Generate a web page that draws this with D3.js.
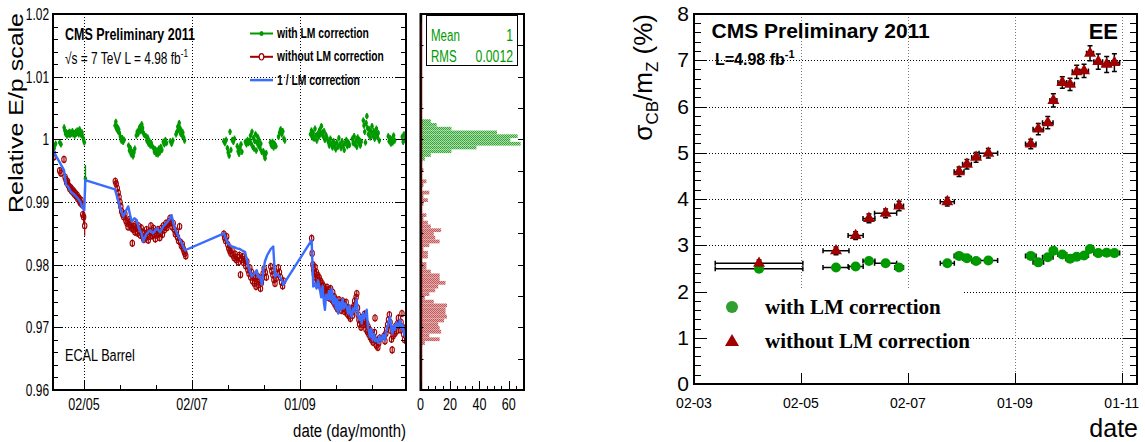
<!DOCTYPE html>
<html>
<head>
<meta charset="utf-8">
<script src="https://cdn.jsdelivr.net/npm/d3@7"></script>
<style>
body { margin: 0; background: #fff; }
svg { display: block; font-family: "Liberation Sans", Arial, sans-serif; }
</style>
</head>
<body>
<svg id="chart" width="1145" height="442"></svg>
<script>
// ---------- left panel (ECAL barrel), x = day of year 2011 ----------
// [day, relative E/p, optional error]
var withLM = [
 [104.6,0.9990],[105.2,0.9986],[106.0,0.9993],[108.3,0.9995],[109.0,0.9992],[110.8,1.0019],[111.2,1.0014],
 [111.6,1.0009],[112.0,1.0011],[112.4,1.0006],[112.8,1.0010],[113.3,1.0008],[113.7,1.0012],[114.1,1.0007],
 [114.6,1.0011],[115.0,1.0009],[115.5,1.0013],[115.9,1.0008],[116.4,1.0010],[116.8,1.0006],[117.3,1.0012],
 [117.7,1.0009],[118.2,1.0014],[118.6,1.0010],[119.1,1.0008],[119.5,1.0016],[120.0,1.0012],[120.4,1.0007],
 [120.9,1.0011],[121.3,1.0004],[121.8,0.9999],[122.2,0.9995],[122.8,0.9937,0.0022],
 [139.6,1.0022],[140.0,1.0028],[140.4,1.0017],[140.8,1.0020],[141.2,1.0013],[141.6,1.0016],[142.0,1.0010],
 [142.6,1.0004],[143.1,0.9998],[143.6,1.0002],[144.1,0.9996],[144.7,0.9999],[147.2,0.9990],[147.7,0.9982],
 [148.2,0.9986],[148.7,0.9976],[149.2,0.9980],[149.7,0.9973],[150.2,0.9979],[150.7,0.9985],[151.6,1.0006],
 [152.1,1.0012],[152.6,1.0009],[153.1,1.0016],[153.6,1.0020],[154.1,1.0013],[154.6,1.0024],[155.1,1.0018],
 [155.6,1.0010],[156.1,1.0007],[157.0,1.0005],[157.5,0.9998],[158.0,1.0003],[158.5,0.9993],[159.0,0.9997],
 [159.5,0.9990],[160.0,0.9994],[160.6,0.9989],[161.3,0.9986],[161.8,0.9980],[162.3,0.9984],[162.8,0.9977],
 [163.3,0.9982],[163.8,0.9976],[164.3,0.9985],[164.8,0.9979],[165.4,0.9988],[166.0,0.9983],[166.8,0.9996],
 [167.4,0.9992],[168.0,0.9999],[168.6,0.9994],[170.8,0.9997],[171.5,0.9993],[172.2,0.9998],[174.0,1.0008],
 [174.5,1.0012],[175.0,1.0020],[175.4,1.0015],[175.8,1.0026],[176.2,1.0018],[176.6,1.0009],[177.0,1.0014],
 [177.4,1.0006],[177.8,1.0011],[178.3,1.0003],[178.8,0.9998],
 [201.0,0.9997],[201.6,0.9994],[202.3,0.9999],[203.0,0.9986],[203.5,0.9979],[204.0,0.9974],[204.5,1.0012],
 [205.0,0.9983],[205.8,0.9999],[206.4,0.9996],[207.0,1.0001],[208.6,0.9989],[209.1,0.9981],[209.6,0.9977],
 [210.1,0.9986],[210.7,0.9992],[211.2,0.9980],[213.2,0.9996],[213.8,0.9992],[214.4,0.9999],[215.0,0.9994],
 [215.6,0.9998],[216.1,1.0006],[216.5,0.9993],[216.9,1.0012],[217.3,0.9988],[217.7,1.0002],[218.1,0.9985],
 [218.5,0.9997],[218.9,1.0008],[219.3,0.9982],[219.7,0.9995],[220.1,1.0004],[220.5,0.9990],[220.9,0.9999],
 [221.4,0.9986],[221.9,0.9993],[222.4,0.9980],[223.3,0.9981],[223.8,0.9975],[224.3,0.9970],[224.9,0.9978],
 [227.3,0.9995],[227.9,0.9990],[228.5,0.9996],[229.1,0.9987],[229.7,0.9993],[230.4,0.9989],[231.9,1.0004],
 [232.5,1.0011],[233.1,1.0016],[233.7,1.0008],[234.3,1.0013],[234.9,1.0001],[235.4,0.9998],
 [250.0,1.0008],[250.5,1.0014],[251.0,1.0003],[251.5,1.0010],[252.0,1.0001],[252.5,1.0017],[253.0,1.0006],
 [253.5,0.9998],[254.0,1.0009],[254.6,1.0004],[255.1,1.0015],[255.6,1.0008],[256.1,1.0021],[256.6,1.0011],
 [257.1,1.0005],[257.6,1.0013],[258.1,0.9999],[258.7,1.0007],[259.3,1.0002],[260.0,0.9996],[260.6,0.9990],
 [261.2,1.0001],[261.8,0.9993],[262.4,0.9987],[263.0,0.9997],[263.6,0.9991],[264.2,0.9984],[264.8,0.9995],
 [265.4,0.9988],[266.0,1.0002],[266.6,0.9992],[267.2,0.9986],[267.8,0.9997],[268.4,0.9990],[269.0,0.9983],
 [269.6,0.9994],[270.2,0.9999],[270.8,0.9989],[271.4,0.9995],[272.0,0.9991],[273.6,1.0001],[274.1,0.9994],
 [274.6,1.0005],[275.1,0.9992],[275.6,0.9998],[276.1,0.9988],[276.6,1.0003],[277.1,0.9995],[277.6,0.9999],
 [278.1,0.9990],[278.6,0.9996],[279.8,1.0030],[280.2,1.0022],[280.6,1.0012],[281.0,0.9995],[281.4,1.0026],
 [281.8,1.0037],[282.2,1.0018],[282.7,1.0008],[283.2,1.0016],[283.7,1.0003],[284.2,1.0012],[284.7,1.0021],
 [285.2,1.0006],[285.7,1.0013],[286.2,1.0001],[286.7,1.0009],[287.2,1.0017],[287.7,1.0004],[288.2,1.0010],
 [288.8,0.9998],[293.9,1.0005],[294.4,0.9997],[294.9,1.0002],[295.4,0.9993],[295.9,1.0000],[296.4,0.9995],
 [296.9,1.0006],[297.5,0.9998],[301.8,1.0004],[302.3,0.9996],[302.8,1.0008],[303.3,0.9999],[303.8,1.0003]
];

var withoutLM = [
 [104.6,0.9978],[105.0,0.9972],[108.3,0.9950],[109.0,0.9946],[110.7,0.9968],[111.3,0.9940],[111.8,0.9936],
 [112.2,0.9931],[112.7,0.9933],[113.1,0.9927],[113.6,0.9925],[114.0,0.9921],[114.5,0.9923],[114.9,0.9918],
 [115.4,0.9920],[115.8,0.9915],[116.3,0.9917],[116.7,0.9912],[117.2,0.9914],[117.6,0.9909],[118.1,0.9911],
 [118.5,0.9905],[119.0,0.9907],[119.4,0.9902],[119.9,0.9899],[120.3,0.9903],[120.8,0.9896],[121.3,0.9880],
 [121.8,0.9876,0.0012],[122.4,0.9862,0.0016],
 [139.7,0.9933],[140.2,0.9929],[140.8,0.9922],[141.3,0.9915],[141.8,0.9908],[142.3,0.9900],[142.8,0.9893],
 [143.3,0.9885],[143.9,0.9880],[144.5,0.9876],[145.1,0.9881],[145.7,0.9870],[146.3,0.9866],[146.9,0.9860],
 [147.4,0.9872],[147.9,0.9868],[148.4,0.9862],[148.9,0.9858],[149.3,0.9834],[149.8,0.9856],[150.3,0.9861],
 [150.8,0.9852],[151.3,0.9865],[151.8,0.9858],[152.3,0.9850],[152.8,0.9862],[153.3,0.9855],[153.8,0.9847],
 [154.3,0.9859],[154.8,0.9852],[155.3,0.9844],[155.8,0.9840],[156.3,0.9850],[156.8,0.9843],[157.3,0.9856],
 [157.8,0.9848],[158.3,0.9839],[158.8,0.9853],[159.3,0.9845],[159.8,0.9862],[160.3,0.9851],[160.8,0.9846],
 [161.3,0.9858],[161.8,0.9849],[162.3,0.9841],[162.8,0.9854],[163.3,0.9847],[163.8,0.9856],[164.3,0.9850],
 [164.8,0.9843],[165.3,0.9852],[165.8,0.9858],[166.3,0.9848],[166.8,0.9862],[167.3,0.9855],[167.8,0.9860],
 [168.3,0.9866],[168.8,0.9859],[169.3,0.9864],[170.0,0.9869],[170.6,0.9874],[171.2,0.9867],[171.8,0.9860],
 [172.4,0.9866],[173.0,0.9856],[173.6,0.9849],[174.2,0.9852],[174.8,0.9844],[175.4,0.9838],[176.0,0.9861],
 [176.5,0.9836],[177.0,0.9830],[177.5,0.9833],[178.0,0.9826],[178.5,0.9822],[179.0,0.9818],[179.5,0.9814],
 [201.0,0.9849],[201.5,0.9843],[202.0,0.9838],[202.6,0.9845],[203.2,0.9832],[203.8,0.9826],[204.4,0.9822],
 [205.0,0.9818],[205.6,0.9824],[206.2,0.9815],[206.8,0.9811],[207.4,0.9817],[208.0,0.9808],[208.6,0.9812],
 [209.2,0.9804],[209.8,0.9815],[210.4,0.9784],[211.0,0.9808],[211.6,0.9813],[212.2,0.9803],[212.8,0.9809],
 [213.4,0.9798],[214.0,0.9805],[214.6,0.9792],[215.2,0.9786],[215.7,0.9795],[216.2,0.9780],[216.7,0.9788],
 [217.2,0.9774],[217.7,0.9782],[218.2,0.9770],[218.7,0.9778],[219.2,0.9765],[219.7,0.9773],[220.2,0.9781],
 [220.7,0.9768],[221.2,0.9776],[221.7,0.9762],[222.2,0.9771],[222.7,0.9779],[223.2,0.9786],[223.8,0.9794],
 [224.4,0.9788],[225.0,0.9780],[227.5,0.9797],[228.1,0.9790],[228.7,0.9784],[229.3,0.9776],[229.9,0.9770],
 [230.5,0.9778],[231.1,0.9785],[231.8,0.9795],[232.4,0.9788],[233.0,0.9780],[233.6,0.9772],[234.2,0.9766],
 [234.8,0.9774],
 [250.6,0.9842],[250.9,0.9818],[251.3,0.9800],[251.7,0.9792],[252.1,0.9785],[252.5,0.9796],[252.9,0.9780],
 [253.3,0.9788],[253.7,0.9776],[254.1,0.9783],[254.5,0.9771],[254.9,0.9779],[255.3,0.9767],[255.7,0.9774],
 [256.1,0.9762],[256.5,0.9770],[256.9,0.9758],[257.3,0.9766],[257.7,0.9754],[258.1,0.9761],[258.5,0.9749],
 [258.9,0.9757],[259.3,0.9764],[259.7,0.9752],[260.1,0.9760],[260.5,0.9747],[260.9,0.9755],[261.3,0.9762],
 [261.7,0.9750],[262.1,0.9744],[262.5,0.9756],[262.9,0.9741],[263.3,0.9749],[263.7,0.9737],[264.1,0.9745],
 [264.5,0.9733],[264.9,0.9740],[265.3,0.9729],[265.7,0.9737],[266.1,0.9744],[266.5,0.9732],[266.9,0.9739],
 [267.3,0.9727],[267.7,0.9735],[268.1,0.9742],[268.5,0.9730],[268.9,0.9738],[269.3,0.9725],[269.7,0.9733],
 [270.1,0.9740],[270.5,0.9728],[270.9,0.9721],[271.3,0.9731],[271.7,0.9718],[272.1,0.9726],[272.5,0.9714],
 [272.9,0.9722],[273.3,0.9730],[273.7,0.9719],[274.1,0.9727],[274.5,0.9734],[274.9,0.9742],[275.3,0.9736],
 [275.7,0.9748],[276.1,0.9754],[276.5,0.9731],[276.9,0.9720],[277.3,0.9712],[277.7,0.9705],[278.1,0.9713],
 [278.5,0.9700],[278.9,0.9708],[279.3,0.9716],[279.7,0.9704],[280.1,0.9712],[280.5,0.9721],[280.9,0.9709],
 [281.3,0.9697],[281.7,0.9706],[282.1,0.9693],[282.5,0.9701],[282.9,0.9689],[283.3,0.9696],[283.7,0.9684],
 [284.1,0.9692],[284.5,0.9680],[284.9,0.9688],[285.3,0.9676],[285.7,0.9684],[286.1,0.9692],[286.4,0.9715],
 [286.8,0.9679],[287.2,0.9671],[287.6,0.9678],[288.0,0.9668],[288.5,0.9675],[289.0,0.9683],[291.5,0.9686],
 [292.0,0.9678],[292.5,0.9690],[293.0,0.9697],[293.5,0.9704],[294.0,0.9712],[294.5,0.9720],[294.9,0.9708],
 [295.3,0.9695],[295.7,0.9681],[296.1,0.9664],[296.6,0.9686],[297.1,0.9698],[297.6,0.9690],[298.1,0.9702],
 [298.6,0.9694],[299.1,0.9706],[299.6,0.9715],[300.1,0.9703],[300.6,0.9696],[301.1,0.9708],[301.6,0.9722],
 [302.1,0.9700],[302.6,0.9689],[303.1,0.9680],[303.6,0.9695]
];

var inverseLM = [
 [104.5,0.9983],[106.5,0.9972],[108.5,0.9962],[110.7,0.9951],[111.9,0.9927],[113.0,0.9925],[114.7,0.9916],
 [116.5,0.9912],[118.4,0.9906],[120.0,0.9900],[121.2,0.9890],[122.2,0.9887],[122.7,0.9935],
 [139.5,0.9920],[141.0,0.9905],[142.5,0.9890],[144.2,0.9877],[145.5,0.9885],[147.0,0.9893],[148.0,0.9880],
 [149.0,0.9869],[150.5,0.9874],[151.8,0.9871],[153.0,0.9858],[154.5,0.9850],[155.5,0.9837],[157.0,0.9848],
 [159.3,0.9855],[161.0,0.9850],[163.1,0.9858],[165.0,0.9852],[166.8,0.9861],[168.5,0.9866],[170.5,0.9873],
 [171.5,0.9879],[173.0,0.9860],[174.5,0.9850],[176.2,0.9840],[177.5,0.9832],[179.1,0.9823],
 [201.1,0.9850],[203.0,0.9835],[205.4,0.9829],[207.0,0.9828],[208.3,0.9826],[210.0,0.9825],[211.1,0.9823],
 [213.0,0.9820],[214.0,0.9808],[214.8,0.9797],[215.8,0.9790],[216.7,0.9781],[218.0,0.9785],[219.6,0.9791],
 [220.5,0.9780],[221.4,0.9781],[222.5,0.9768],[223.3,0.9790],[224.2,0.9805],[225.5,0.9815],[226.5,0.9820],
 [227.5,0.9825],[228.9,0.9829],[229.9,0.9781],[231.0,0.9785],[232.7,0.9781],[233.8,0.9775],[234.6,0.9768],
 [250.6,0.9839],[251.2,0.9790],[251.5,0.9765],[252.3,0.9770],[253.4,0.9762],[254.2,0.9775],[255.3,0.9760],
 [256.0,0.9748],[256.8,0.9766],[257.5,0.9740],[258.1,0.9728],[258.8,0.9752],[259.6,0.9745],[260.4,0.9758],
 [261.2,0.9744],[261.9,0.9762],[262.7,0.9738],[263.5,0.9750],[264.3,0.9730],[265.0,0.9745],[265.6,0.9722],
 [266.4,0.9740],[267.2,0.9728],[268.0,0.9745],[268.8,0.9730],[269.6,0.9738],[270.4,0.9733],[271.2,0.9722],
 [272.0,0.9735],[272.6,0.9720],[273.2,0.9717],[274.0,0.9730],[274.8,0.9725],[275.4,0.9738],[276.0,0.9744],
 [276.8,0.9720],[277.6,0.9712],[278.2,0.9718],[278.9,0.9706],[279.6,0.9722],[280.3,0.9714],[281.0,0.9720],
 [281.7,0.9728],[282.4,0.9700],[283.0,0.9694],[283.5,0.9685],[284.3,0.9698],[285.0,0.9680],[285.8,0.9690],
 [286.5,0.9678],[287.2,0.9682],[288.2,0.9675],[289.0,0.9686],[290.0,0.9678],[291.0,0.9688],[292.0,0.9680],
 [292.8,0.9695],[293.5,0.9702],[294.2,0.9710],[294.8,0.9717],[295.5,0.9700],[296.2,0.9690],[297.0,0.9703],
 [297.7,0.9696],[298.5,0.9708],[299.3,0.9700],[300.0,0.9706],[300.5,0.9712],[301.2,0.9698],[302.0,0.9704],
 [302.6,0.9692],[303.3,0.9685],[303.9,0.9695]
];

var leftTickDays = [122, 183, 244];
var leftTickLabels = ["02/05", "02/07", "01/09"];
var leftYTicks = [0.96, 0.97, 0.98, 0.99, 1.0, 1.01, 1.02];
var leftYLabels = ["0.96", "0.97", "0.98", "0.99", "1", "1.01", "1.02"];
var leftLegend = ["with LM correction", "without LM correction", "1 / LM correction"];

// projection histogram: bins of 0.0006 starting at 0.96
var histLo = 0.96, histStep = 0.0006;
var histWithoutFirst = 11;
var histWithout = [1,3,13,6,14,13,12,16,18,17,17,18,9,3,6,10,12,17,13,13,7,4,4,0,5,5,2,6,13,10,9,14,7,5,2,4,1,0,2,5,2,6,0,2,4,0,0,2,0,0,1];
var histWithFirst = 61;
var histWith = [3,7,21,38,68,61,66,52,21,11,7,1];
var histTicks = [0, 20, 40, 60];
var histStats = [["Mean", "1"], ["RMS", "0.0012"]];

// ---------- right panel (EE resolution) ----------
var eeDay =        [98.1,142.0,153.2,160.8,170.3,178.0,205.5,212.2,216.7,221.9,228.9,253.1,257.4,262.8,266.0,271.1,275.5,279.3,283.5,286.9,291.6,296.4,300.8];
var eeDayErr =     [25,7.4,4.3,3.4,6.3,2.5,4,2.8,2.5,2.5,5.3,3,3,3,2,2.5,2.5,2.5,2.5,2,2.5,2.5,3];
var eeWith =       [2.49,2.52,2.54,2.66,2.61,2.52,2.61,2.77,2.72,2.66,2.67,2.77,2.63,2.74,2.88,2.80,2.71,2.75,2.78,2.92,2.83,2.84,2.83];
var eeWithout =    [2.61,2.88,3.21,3.58,3.69,3.85,3.94,4.59,4.75,4.90,4.99,5.19,5.51,5.65,6.13,6.52,6.48,6.75,6.77,7.15,6.97,6.91,6.95];
var eeWithoutErr = [0.03,0.04,0.04,0.05,0.05,0.06,0.05,0.06,0.06,0.06,0.06,0.06,0.08,0.09,0.1,0.08,0.09,0.1,0.1,0.12,0.12,0.13,0.15];
var rightTickDays = [61, 122, 183, 244, 305];
var rightTickLabels = ["02-03", "02-05", "02-07", "01-09", "01-11"];
var rightLegend = ["with LM correction", "without LM correction"];

// ---------- drawing ----------
var green = "#009a00", darkRed = "#a00000", blue = "#3a6cff";
var toDate = function(doy) { return new Date(Date.UTC(2011, 0, 1) + (doy - 1) * 864e5); };
var svg = d3.select("#chart");
var defs = svg.append("defs");

var checker = function(id, light, dark) {
	var p = defs.append("pattern").attr("id", id).attr("width", 2).attr("height", 2)
		.attr("patternUnits", "userSpaceOnUse");
	p.append("rect").attr("width", 2).attr("height", 2).attr("fill", light);
	p.append("rect").attr("width", 1).attr("height", 1).attr("fill", dark);
	p.append("rect").attr("x", 1).attr("y", 1).attr("width", 1).attr("height", 1).attr("fill", dark);
};
checker("hatchGreen", "#a6dca6", "#35a335");
checker("hatchRed", "#e3a8a8", "#bf5a5a");

// place a text and squeeze it horizontally to a width (left plot is narrow-set)
var place = function(t, x, y, width) {
	var w = t.node().getComputedTextLength();
	t.attr("transform", "translate(" + x + "," + y + ") scale(" + (width / w) + ",1)");
	return t;
};
var squeeze = function(t, x, y, k) {
	t.attr("transform", "translate(" + x + "," + y + ") scale(" + k + ",1)");
	return t;
};

// ===== left panel =====
var L = { x0: 53, x1: 406, y0: 14, y1: 390 };
var xL = d3.scaleUtc().domain([toDate(104.5), toDate(303.9)]).range([L.x0, L.x1]);
var yL = d3.scaleLinear().domain([0.96, 1.02]).range([L.y1, L.y0]);
defs.append("clipPath").attr("id", "clipL").append("rect")
	.attr("x", L.x0).attr("y", L.y0).attr("width", L.x1 - L.x0).attr("height", L.y1 - L.y0);

var gridL = svg.append("g").attr("stroke", "#000").attr("stroke-width", 1).attr("stroke-dasharray", "1,2");
gridL.selectAll(".gh").data(leftYTicks.slice(1, -1)).join("line").attr("class", "gh")
	.attr("x1", L.x0).attr("x2", L.x1)
	.attr("y1", function(d) { return Math.round(yL(d)) + 0.5; })
	.attr("y2", function(d) { return Math.round(yL(d)) + 0.5; });
gridL.selectAll(".gv").data(leftTickDays).join("line").attr("class", "gv")
	.attr("x1", function(d) { return Math.round(xL(toDate(d))) + 0.5; })
	.attr("x2", function(d) { return Math.round(xL(toDate(d))) + 0.5; })
	.attr("y1", L.y0).attr("y2", L.y1);

var pts = svg.append("g").attr("clip-path", "url(#clipL)");
var px = function(d) { return xL(toDate(d[0])); };
pts.append("g").selectAll("line").data(withLM).join("line")
	.attr("x1", px).attr("x2", px)
	.attr("y1", function(d) { return yL(d[1] - (d[2] || 0.0005)); })
	.attr("y2", function(d) { return yL(d[1] + (d[2] || 0.0005)); })
	.attr("stroke", green).attr("stroke-width", 1.5);
pts.append("g").selectAll("ellipse").data(withLM).join("ellipse")
	.attr("cx", px).attr("cy", function(d) { return yL(d[1]); })
	.attr("rx", 1.8).attr("ry", 2.3).attr("fill", green);

pts.append("g").selectAll("line").data(withoutLM).join("line")
	.attr("x1", px).attr("x2", px)
	.attr("y1", function(d) { return yL(d[1] - (d[2] || 0.0006)); })
	.attr("y2", function(d) { return yL(d[1] + (d[2] || 0.0006)); })
	.attr("stroke", darkRed).attr("stroke-width", 1.2);
pts.append("g").selectAll("ellipse").data(withoutLM).join("ellipse")
	.attr("cx", px).attr("cy", function(d) { return yL(d[1]); })
	.attr("rx", 2.2).attr("ry", 3).attr("fill", "none")
	.attr("stroke", darkRed).attr("stroke-width", 1.1);

pts.append("path").datum(inverseLM)
	.attr("d", d3.line().x(px).y(function(d) { return yL(d[1]); }))
	.attr("fill", "none").attr("stroke", blue).attr("stroke-width", 2.4).attr("stroke-linejoin", "round");

// ticks
var axL = svg.append("g").attr("stroke", "#000").attr("stroke-width", 1);
var yMinorL = d3.range(31).map(function(i) { return 0.96 + i * 0.002; });
axL.selectAll(".ty").data(yMinorL).join("path").attr("class", "ty")
	.attr("d", function(d, i) {
		var y = Math.round(yL(d)) + 0.5, len = i % 5 === 0 ? 10 : 5;
		return "M" + L.x0 + "," + y + "h" + len + "M" + L.x1 + "," + y + "h" + (-len);
	});
var xMinorL = d3.range(-1, 10).map(function(i) { return 122 + i * 61 / 3; })
	.filter(function(d) { return d > 104.5 && d < 303.9; });
axL.selectAll(".tx").data(xMinorL).join("path").attr("class", "tx")
	.attr("d", function(d) {
		var x = Math.round(xL(toDate(d))) + 0.5;
		var major = leftTickDays.some(function(m) { return Math.abs(m - d) < 0.5; });
		return "M" + x + "," + L.y1 + "v" + (major ? -9 : -5);
	});
svg.append("rect").attr("x", L.x0).attr("y", L.y0).attr("width", L.x1 - L.x0).attr("height", L.y1 - L.y0)
	.attr("fill", "none").attr("stroke", "#000").attr("stroke-width", 2);

var txtL = svg.append("g").attr("fill", "#000");
leftYTicks.forEach(function(v, i) {
	squeeze(txtL.append("text").attr("font-size", 17).attr("text-anchor", "end").text(leftYLabels[i]),
		49, yL(v) + 6, 0.7);
});
leftTickDays.forEach(function(d, i) {
	squeeze(txtL.append("text").attr("font-size", 17).attr("text-anchor", "middle").text(leftTickLabels[i]),
		xL(toDate(d)), 410, 0.74);
});
place(txtL.append("text").attr("font-size", 19).attr("text-anchor", "end").text("date (day/month)"), 406, 437, 113);
txtL.append("text").attr("font-size", 25).attr("text-anchor", "end")
	.attr("transform", "translate(23,13) rotate(-90) scale(1,0.8)").text("Relative E/p scale");
place(txtL.append("text").attr("font-size", 16).attr("font-weight", "bold").text("CMS Preliminary 2011"), 65, 39.5, 130);
var lumi = txtL.append("text").attr("font-size", 16);
lumi.append("tspan").text("\u221As = 7 TeV   L = 4.98 fb");
lumi.append("tspan").attr("font-size", 11).attr("dy", -7).text("-1");
place(lumi, 65, 63.5, 123);
place(txtL.append("text").attr("font-size", 17).text("ECAL Barrel"), 65, 361, 70);

// legend of the left panel
var legW = [92, 107, 83];
var legColor = [green, darkRed, blue];
leftLegend.forEach(function(s, i) {
	var y = 33.5 + i * 23.3;
	var g = svg.append("g");
	g.append("line").attr("x1", 250).attr("x2", 273).attr("y1", y).attr("y2", y)
		.attr("stroke", legColor[i]).attr("stroke-width", i === 2 ? 2.5 : 2);
	if (i === 0) g.append("ellipse").attr("cx", 261.5).attr("cy", y).attr("rx", 2).attr("ry", 2.6).attr("fill", green);
	if (i === 1) g.append("ellipse").attr("cx", 261.5).attr("cy", y).attr("rx", 2.3).attr("ry", 3.2)
		.attr("fill", "#fff").attr("stroke", darkRed).attr("stroke-width", 1.2);
	place(g.append("text").attr("font-size", 14).attr("font-weight", "bold").text(s), 277, y + 4.5, legW[i]);
});

// ===== projection histogram =====
var H = { x0: 420.5, x1: 524, y0: 14, y1: 390 };
var xH = d3.scaleLinear().domain([0, 70.3]).range([H.x0, H.x1]);
var binsOf = function(first, counts) {
	return counts.map(function(c, i) { return { lo: histLo + (first + i) * histStep, c: c }; })
		.filter(function(b) { return b.c > 0; });
};
var bars = svg.append("g");
[[binsOf(histWithoutFirst, histWithout), "url(#hatchRed)"], [binsOf(histWithFirst, histWith), "url(#hatchGreen)"]]
	.forEach(function(h) {
		bars.append("g").selectAll("rect").data(h[0]).join("rect")
			.attr("x", xH(0)).attr("width", function(b) { return xH(b.c) - xH(0); })
			.attr("y", function(b) { return yL(b.lo + histStep); })
			.attr("height", function(b) { return yL(b.lo) - yL(b.lo + histStep); })
			.attr("fill", h[1]);
	});
svg.append("line").attr("x1", H.x0 + 1).attr("x2", H.x0 + 1).attr("y1", H.y0).attr("y2", H.y1)
	.attr("stroke", "#8b0000").attr("stroke-width", 1.5);

var axH = svg.append("g").attr("stroke", "#000").attr("stroke-width", 1);
axH.selectAll(".hx").data(d3.range(0, 71, 5)).join("path").attr("class", "hx")
	.attr("d", function(d) {
		var x = Math.round(xH(d)) + 0.5, len = d % 20 === 0 ? 9 : 4;
		return "M" + x + "," + H.y1 + "v" + (-len) + "M" + x + "," + H.y0 + "v" + len;
	});
axH.selectAll(".hy").data(d3.range(0.965, 1.0201, 0.005)).join("path").attr("class", "hy")
	.attr("d", function(d) {
		var y = Math.round(yL(d)) + 0.5;
		return "M" + H.x0 + "," + y + "h3M" + H.x1 + "," + y + "h-6";
	});
svg.append("rect").attr("x", H.x0).attr("y", H.y0).attr("width", H.x1 - H.x0).attr("height", H.y1 - H.y0)
	.attr("fill", "none").attr("stroke", "#000").attr("stroke-width", 2);
histTicks.forEach(function(v) {
	squeeze(svg.append("text").attr("font-size", 17).attr("text-anchor", "middle").text(v), xH(v), 410, 0.74);
});
var stat = svg.append("g");
stat.append("rect").attr("x", 426.5).attr("y", 15.5).attr("width", 91).attr("height", 50)
	.attr("fill", "#fff").attr("stroke", "#000").attr("stroke-width", 1);
histStats.forEach(function(s, i) {
	var y = 41 + i * 20.5;
	squeeze(stat.append("text").attr("font-size", 17).attr("fill", green).text(s[0]), 431, y, 0.68);
	squeeze(stat.append("text").attr("font-size", 17).attr("fill", green).attr("text-anchor", "end").text(s[1]), 513, y, 0.72);
});

// ===== right panel =====
var R = { x0: 694, x1: 1137, y0: 14, y1: 384 };
var xR = d3.scaleUtc().domain([toDate(61), toDate(313.7)]).range([R.x0, R.x1]);
var yR = d3.scaleLinear().domain([0, 8]).range([R.y1, R.y0]);

var gridR = svg.append("g").attr("stroke-width", 1).attr("stroke-dasharray", "1,2");
gridR.selectAll(".rh").data(d3.range(1, 8)).join("line").attr("class", "rh")
	.attr("x1", R.x0).attr("x2", R.x1).attr("stroke", "#000")
	.attr("y1", function(d) { return Math.round(yR(d)) + 0.5; })
	.attr("y2", function(d) { return Math.round(yR(d)) + 0.5; });
gridR.selectAll(".rv").data(rightTickDays.slice(1)).join("line").attr("class", "rv")
	.attr("stroke", "#777")
	.attr("x1", function(d) { return Math.round(xR(toDate(d))) + 0.5; })
	.attr("x2", function(d) { return Math.round(xR(toDate(d))) + 0.5; })
	.attr("y1", R.y0).attr("y2", R.y1);

// legend box hides the grid under it
svg.append("rect").attr("x", R.x0 + 1).attr("y", 288).attr("width", 268).attr("height", R.y1 - 288).attr("fill", "#fff");

var ee = eeDay.map(function(d, i) {
	return { day: d, dx: eeDayErr[i], w: eeWith[i], wo: eeWithout[i], woe: eeWithoutErr[i] };
});
var gE = svg.append("g").attr("stroke", "#000").attr("stroke-width", 1.5).attr("fill", "none");
var xe = function(d, s) { return xR(toDate(d.day + s * d.dx)); };
var errPath = function(d, v) {
	var y = yR(v), a = xe(d, -1), b = xe(d, 1);
	return "M" + a + "," + y + "H" + b + "M" + a + "," + (y - 2.5) + "v5M" + b + "," + (y - 2.5) + "v5";
};
gE.selectAll(".ew").data(ee).join("path").attr("class", "ew").attr("d", function(d) { return errPath(d, d.w); });
gE.selectAll(".eo").data(ee).join("path").attr("class", "eo")
	.attr("d", function(d) {
		var x = xR(toDate(d.day)), t = yR(d.wo + d.woe), b = yR(d.wo - d.woe);
		return errPath(d, d.wo) + "M" + x + "," + (t - 2) + "V" + (b + 2) +
			"M" + (x - 2.5) + "," + (t - 2) + "h5M" + (x - 2.5) + "," + (b + 2) + "h5";
	});
var tri = d3.symbol().type(d3.symbolTriangle).size(62);
svg.append("g").selectAll("circle").data(ee).join("circle")
	.attr("cx", function(d) { return xR(toDate(d.day)); }).attr("cy", function(d) { return yR(d.w); })
	.attr("r", 5).attr("fill", green);
svg.append("g").selectAll("path").data(ee).join("path")
	.attr("transform", function(d) { return "translate(" + xR(toDate(d.day)) + "," + yR(d.wo) + ")"; })
	.attr("d", tri).attr("fill", darkRed);

var axR = svg.append("g").attr("stroke", "#000").attr("stroke-width", 1);
axR.selectAll(".ry").data(d3.range(0, 41)).join("path").attr("class", "ry")
	.attr("d", function(i) {
		var y = Math.round(yR(i * 0.2)) + 0.5, len = i % 5 === 0 ? 13 : 7;
		return "M" + R.x0 + "," + y + "h" + len + "M" + R.x1 + "," + y + "h" + (-len);
	});
axR.selectAll(".rx").data(rightTickDays).join("path").attr("class", "rx")
	.attr("d", function(d) {
		var x = Math.round(xR(toDate(d))) + 0.5;
		return "M" + x + "," + R.y1 + "v-11";
	});
svg.append("rect").attr("x", R.x0).attr("y", R.y0).attr("width", R.x1 - R.x0).attr("height", R.y1 - R.y0)
	.attr("fill", "none").attr("stroke", "#000").attr("stroke-width", 2);

var txtR = svg.append("g").attr("fill", "#000");
d3.range(0, 9).forEach(function(v) {
	txtR.append("text").attr("x", 689).attr("y", yR(v) + 7).attr("font-size", 21)
		.attr("text-anchor", "end").text(v);
});
rightTickDays.forEach(function(d, i) {
	txtR.append("text").attr("x", xR(toDate(d))).attr("y", 408).attr("font-size", 14)
		.attr("text-anchor", "middle").text(rightTickLabels[i]);
});
txtR.append("text").attr("x", 1138).attr("y", 437).attr("font-size", 25).attr("text-anchor", "end").text("date");
var yt = txtR.append("text").attr("font-size", 26).attr("text-anchor", "end")
	.attr("transform", "translate(652,14) rotate(-90)");
yt.append("tspan").text("\u03c3");
yt.append("tspan").attr("font-size", 17).attr("dy", 6).text("CB");
yt.append("tspan").attr("dy", -6).text("/m");
yt.append("tspan").attr("font-size", 17).attr("dy", 6).text("Z");
yt.append("tspan").attr("dy", -6).text(" (%)");
txtR.append("text").attr("x", 711.5).attr("y", 37.5).attr("font-size", 21).attr("font-weight", "bold")
	.text("CMS Preliminary 2011");
var lt = txtR.append("text").attr("x", 715).attr("y", 64.5).attr("font-size", 16).attr("font-weight", "bold");
lt.append("tspan").text("L=4.98 fb");
lt.append("tspan").attr("font-size", 11).attr("dy", -7).text("-1");
txtR.append("text").attr("x", 1118).attr("y", 39).attr("font-size", 22).attr("font-weight", "bold")
	.attr("text-anchor", "end").text("EE");

svg.append("circle").attr("cx", 732).attr("cy", 307).attr("r", 6).attr("fill", "#2f9f2f");
svg.append("path").attr("transform", "translate(732,342)").attr("d", d3.symbol().type(d3.symbolTriangle).size(85))
	.attr("fill", darkRed);
rightLegend.forEach(function(s, i) {
	txtR.append("text").attr("x", 765).attr("y", 314 + i * 33.5).attr("font-family", "Liberation Serif, serif")
		.attr("font-size", 21).attr("font-weight", "bold").text(s);
});
</script>
</body>
</html>
